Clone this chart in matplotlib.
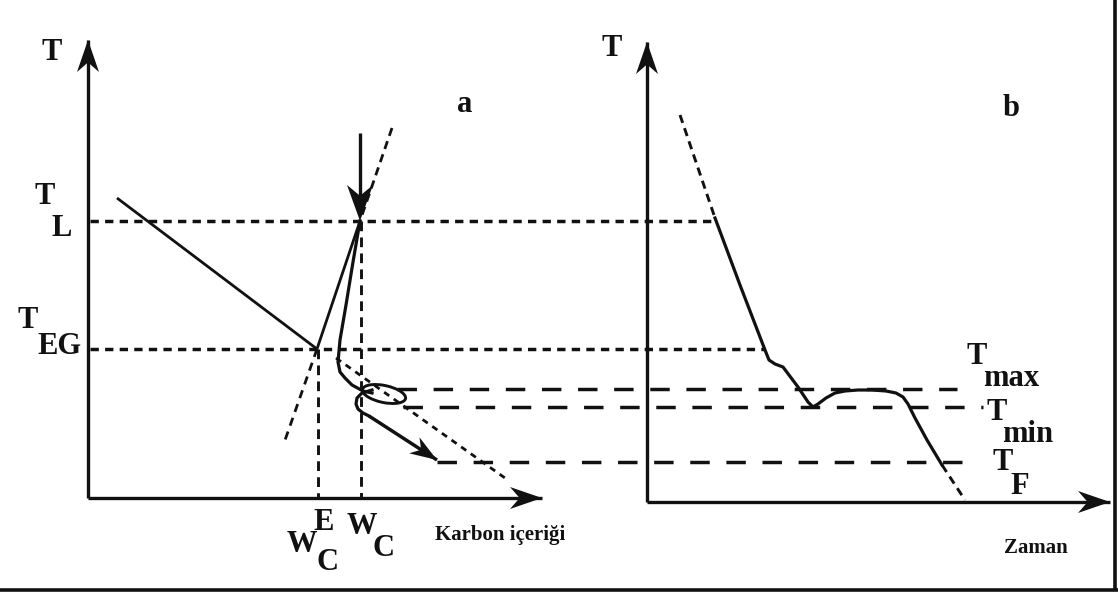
import numpy as np
import matplotlib
matplotlib.use('Agg')
import matplotlib.pyplot as plt
from matplotlib.patches import Polygon, Ellipse

plt.rcParams['lines.scale_dashes'] = False
plt.rcParams['font.family'] = ['Liberation Serif', 'DejaVu Serif']

# schematic coordinates (image pixels, y downwards)
y_TL, y_TEG, y_Tmax, y_Tmin, y_TF = 221, 349, 389, 407, 462
x_WCE, x_WC = 318, 361

# panel a
axis_a_origin = (88, 498)
axis_a_top = (88, 40)
axis_a_right = (542, 498)
liquidus = [(117, 198), (317, 349)]
liquidus_ext = [(336, 358), (505, 478)]
steep_up = [(392, 128), (360, 221)]
steep_mid = [(360, 221), (317, 349)]
steep_low = [(317, 349), (284, 443)]
path_a1_x = [360, 353, 346, 340, 338, 340, 345, 352, 363, 372]
path_a1_y = [221, 262, 305, 340, 362, 372, 378, 385, 391, 393]
loop_center, loop_w, loop_h, loop_ang = (384, 394), 44, 17, 12
path_a2_x = [372, 362, 357, 356, 358, 363, 369]
path_a2_y = [390, 393, 398, 404, 409, 413, 416]
cool_arrow = [(369, 416), (437, 460)]
drop_arrow = [(360, 133), (360, 221)]

# panel b
axis_b_origin = (647, 502)
axis_b_top = (647, 42)
axis_b_right = (1110, 502)
curve_b_head = [(680, 115), (715, 218)]
curve_b_x = [715, 740, 765, 769, 775, 783, 798, 808, 813, 818, 826, 835, 845, 858, 872, 886, 896, 903, 908, 915, 927, 942]
curve_b_y = [218, 285, 350, 360, 364, 367, 387, 402, 407, 404, 398, 393, 391, 390, 390, 391, 393, 397, 404, 418, 440, 465]
curve_b_tail = [(942, 465), (965, 500)]

# guide lines: (y, x_start, x_end)
hlines_short = [(y_TL, 90, 715), (y_TEG, 90, 765)]
hlines_long = [(y_Tmax, 397, 957), (y_Tmin, 403, 983), (y_TF, 437, 967)]

fig = plt.figure(figsize=(11.18, 5.93), dpi=100)
ax = fig.add_axes([0, 0, 1, 1])
ax.set_xlim(0, 1118)
ax.set_ylim(593, 0)
ax.axis('off')

K = '#111111'


def seg(pts, lw=1.9, dashes=None):
    xs = [p[0] for p in pts]
    ys = [p[1] for p in pts]
    line, = ax.plot(xs, ys, color=K, lw=lw, solid_capstyle='butt')
    if dashes:
        line.set_dashes(dashes)
    return line


def head(tip, tail, length, half, notch=0.3):
    tip = np.array(tip, float)
    d = tip - np.array(tail, float)
    d = d / np.hypot(*d)
    n = np.array([-d[1], d[0]])
    base = tip - d * length
    pts = [tip, base + n * half, tip - d * length * (1 - notch), base - n * half]
    ax.add_patch(Polygon(pts, closed=True, color=K, lw=0))


# axes with arrows
for o, t in [(axis_a_origin, axis_a_top), (axis_a_origin, axis_a_right),
             (axis_b_origin, axis_b_top), (axis_b_origin, axis_b_right)]:
    seg([o, t], lw=2.4)
    head(t, o, 32, 11)

# horizontal guides
for y, x0, x1 in hlines_short:
    seg([(x0, y), (x1, y)], lw=2.5, dashes=(6, 4.5))
for y, x0, x1 in hlines_long:
    seg([(x0, y), (x1, y)], lw=2.5, dashes=(14, 12))

# vertical guides to W marks
seg([(x_WCE, y_TEG), (x_WCE, axis_a_origin[1])], lw=2.1, dashes=(7, 4.5))
seg([(x_WC, y_TL), (x_WC, axis_a_origin[1])], lw=2.1, dashes=(7, 4.5))

# panel a lines
seg(liquidus, lw=2.0)
seg(liquidus_ext, lw=2.0, dashes=(4.5, 4))
seg(steep_up, lw=2.0, dashes=(6, 4))
seg(steep_mid, lw=2.0)
seg(steep_low, lw=2.0, dashes=(6, 4.5))
ax.plot(path_a1_x, path_a1_y, color=K, lw=2.3)
ax.add_patch(Ellipse(loop_center, loop_w, loop_h, angle=loop_ang, fill=False, ec=K, lw=2.1))
ax.plot(path_a2_x, path_a2_y, color=K, lw=2.3)
seg(cool_arrow, lw=2.5)
head(cool_arrow[1], cool_arrow[0], 27, 9.5)
seg([drop_arrow[0], (360, 200)], lw=2.4)
head(drop_arrow[1], drop_arrow[0], 36, 13)

# panel b curve
seg(curve_b_head, lw=2.1, dashes=(6, 4))
ax.plot(curve_b_x, curve_b_y, color=K, lw=2.3)
seg(curve_b_tail, lw=2.1, dashes=(6, 4))

# labels
big = dict(fontsize=22, fontweight='bold', ha='center', va='center', color=K)
small = dict(fontsize=15, fontweight='bold', ha='center', va='center', color=K)
for s, x, y in [('T', 52, 53), ('T', 45, 197), ('L', 62, 228), ('T', 28, 321), ('EG', 60, 347),
                ('T', 612, 48), ('a', 465, 105), ('b', 1011, 108),
                ('T', 977, 357), ('max', 1011, 379), ('T', 997, 412), ('min', 1028, 434),
                ('T', 1003, 462), ('F', 1020, 486),
                ('W', 302, 545), ('E', 324, 523), ('C', 327, 563),
                ('W', 362, 526), ('C', 384, 548)]:
    ax.text(x, y, s, **big)
ax.text(500, 535, 'Karbon içeriği', **small)
ax.text(1036, 548, 'Zaman', **small)

# frame at bottom and right
seg([(0, 590), (1118, 590)], lw=2.6)
seg([(1115, 0), (1115, 590)], lw=2.6)

fig.savefig('out.png', dpi=100)
